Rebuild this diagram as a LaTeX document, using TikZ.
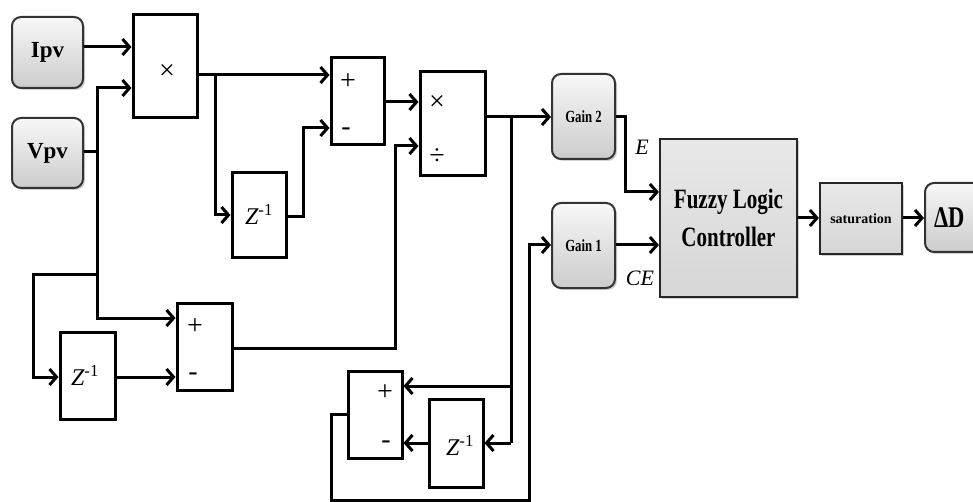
\documentclass[tikz,border=0pt]{standalone}
\usepackage{fontspec}
\setmainfont{Liberation Serif}
\newfontfamily\condfont{Liberation Serif}[FakeStretch=0.75]
\usetikzlibrary{arrows.meta,shadows}
\begin{document}
\begin{tikzpicture}[x=1pt,y=-1pt,line width=3pt,
  blk/.style={draw,line width=3pt,fill=white,inner sep=0pt},
  gbox/.style={draw=black!80,line width=2pt,rounded corners=9pt,inner sep=0pt,
     top color=gray!6,bottom color=gray!40,
     drop shadow={shadow xshift=2pt,shadow yshift=-2pt,opacity=0.35}},
  fbox/.style={draw=black!85,line width=2.2pt,inner sep=0pt,
     top color=gray!18,bottom color=gray!32,
     drop shadow={shadow xshift=2pt,shadow yshift=-2pt,opacity=0.35}},
  arr/.style={-{Straight Barb[length=7pt,width=16pt]}},
  sgn/.style={inner sep=0pt,font=\fontsize{28}{30}\selectfont},
  zt/.style={inner sep=0pt,font=\fontsize{24}{26}\selectfont},
  lbl/.style={inner sep=0pt,font=\fontsize{22}{24}\selectfont\itshape}]
\clip (0,0) rectangle (973,502);
\useasboundingbox (0,0) rectangle (973,502);
\fill[white] (0,0) rectangle (973,502);

% sources
\node[gbox,minimum width=71pt,minimum height=71pt,font=\fontsize{23}{25}\selectfont\bfseries] (ipv) at (47.5,52.5) {Ipv};
\node[gbox,minimum width=71pt,minimum height=70pt,font=\fontsize{23}{25}\selectfont\bfseries] (vpv) at (47.5,153) {Vpv};

% blocks
\node[blk,minimum width=64pt,minimum height=103pt] (mul) at (165,66.5) {};
\node[sgn] (multxt) at (167,72) {×};
\node[blk,minimum width=54pt,minimum height=85pt] (z1) at (259,215.5) {};
\node[zt] (z1txt) at (259,214) {{\itshape Z}\textsuperscript{-1}};
\node[blk,minimum width=53pt,minimum height=87pt] (sum1) at (357.5,101.5) {};
\node[sgn] (sum1p) at (348,82) {+};
\node[sgn] (sum1m) at (346,132) {-};
\node[blk,minimum width=65pt,minimum height=104pt] (div) at (452.5,124) {};
\node[sgn] (divx) at (437,103) {×};
\node[sgn] (divd) at (437,157) {÷};
\node[gbox,minimum width=63pt,minimum height=85pt,font=\condfont\bfseries\fontsize{17}{19}\selectfont] (gain2) at (583.5,116.5) {Gain 2};
\node[gbox,minimum width=63pt,minimum height=85pt,font=\condfont\bfseries\fontsize{17}{19}\selectfont] (gain1) at (583.5,245.5) {Gain 1};
\node[fbox,minimum width=137pt,minimum height=158pt,align=center,font=\condfont\bfseries\fontsize{28}{38}\selectfont] (flc) at (728.5,218) {Fuzzy Logic\\Controller};
\node[fbox,minimum width=82pt,minimum height=71pt,font=\bfseries\fontsize{14}{16}\selectfont] (sat) at (861,218.5) {saturation};
\node[gbox,minimum width=80pt,minimum height=69pt,text width=70pt,align=left,font=\condfont\bfseries\fontsize{30}{32}\selectfont] (dd) at (965,217.5) {\hspace*{4pt}ΔD};

\node[blk,minimum width=55pt,minimum height=87pt] (z2) at (87.5,375.5) {};
\node[zt] (z2txt) at (85,375) {{\itshape Z}\textsuperscript{-1}};
\node[blk,minimum width=55pt,minimum height=87pt] (sum2) at (204.5,346.5) {};
\node[sgn] (sum2p) at (195,327) {+};
\node[sgn] (sum2m) at (193,377) {-};
\node[blk,minimum width=54pt,minimum height=87pt] (sum3) at (375,414.5) {};
\node[sgn] (sum3p) at (385,393) {+};
\node[sgn] (sum3m) at (386,445) {-};
\node[blk,minimum width=54pt,minimum height=88pt] (z3) at (456,443) {};
\node[zt] (z3txt) at (460,445) {{\itshape Z}\textsuperscript{-1}};

% labels
\node[lbl] (elbl) at (642,147) {E};
\node[lbl] (celbl) at (640,278) {CE};

% junctions
\coordinate (j1) at (97,152);
\coordinate (j2) at (97,275);
\coordinate (j3) at (215,75);
\coordinate (j4) at (511,117);
\coordinate (j5) at (511,386);

% connectors
\draw[arr] (ipv.east |- 0,47) -- (mul.west |- 0,47);
\draw (vpv.east |- j1) -- (j1);
\draw[arr] (j1) |- (mul.west |- 0,88);
\draw[arr] (j1) |- (sum2.west |- 0,318);
\draw[arr] (j2) -- (33,275) |- (z2.west |- 0,377);
\draw[arr] (z2.east |- 0,377) -- (sum2.west |- 0,377);

\draw[arr] (mul.east |- j3) -- (sum1.west |- j3);
\draw[arr] (j3) |- (z1.west |- 0,215);
\draw[arr] (z1.east |- 0,217) -- (303,217) |- (sum1.west |- 0,128);
\draw[arr] (sum1.east |- 0,102) -- (div.west |- 0,102);
\draw[arr] (sum2.east |- 0,348) -- (395,348) |- (div.west |- 0,146);

\draw[arr] (div.east |- j4) -- (gain2.west |- j4);
\draw (j4) -- (511,443);
\draw[arr] (511,443) -- (z3.east |- 0,443);
\draw[arr] (j5) -- (sum3.east |- j5);
\draw[arr] (z3.west |- 0,443) -- (sum3.east |- 0,443);
\draw[arr] (sum3.west |- 0,414) -- (331,414) -- (331,500) -- (529,500) |- (gain1.west |- 0,245);

\draw[arr] (gain2.east |- 0,117) -- (625,117) |- (flc.west |- 0,192);
\draw[arr] (gain1.east |- 0,245) -- (flc.west |- 0,245);
\draw[arr] (flc.east |- 0,218) -- (sat.west |- 0,218);
\draw[arr] (sat.east |- 0,218) -- (dd.west |- 0,218);
\end{tikzpicture}
\end{document}
